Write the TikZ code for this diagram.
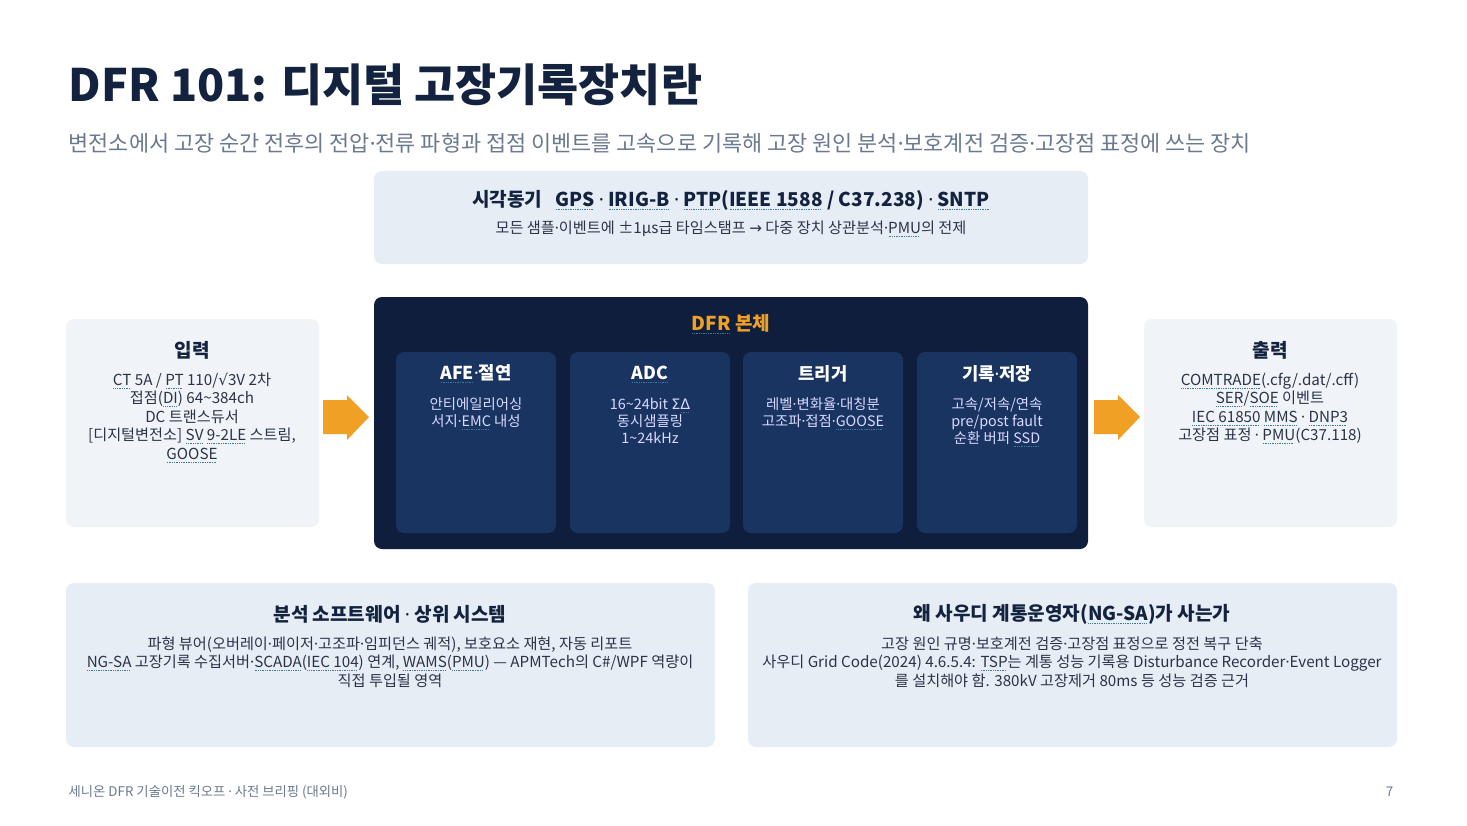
\documentclass[tikz,border=0pt]{standalone}
\usepackage{fontspec}
\usepackage{newunicodechar}
\setmainfont{Noto Sans CJK KR}
\newfontfamily\sym{DejaVu Sans}
\newfontfamily\lat{Noto Sans}
\newunicodechar{·}{{\lat ·}}
\definecolor{navy}{HTML}{13223F}
\definecolor{sub}{HTML}{6B7A90}
\definecolor{panel}{HTML}{E7EDF5}
\definecolor{side}{HTML}{F0F3F7}
\definecolor{dark}{HTML}{0E1E3C}
\definecolor{inner}{HTML}{1A3462}
\definecolor{org}{HTML}{F0A024}
\definecolor{dotc}{HTML}{3A7A9A}
\definecolor{body}{HTML}{2A3446}
\newcommand\ab[1]{\setbox0\hbox{#1}\rlap{\raisebox{-2.4pt}{\hbox to\wd0{\color{dotc}\leaders\hbox to 1.3pt{\hss\rule{0.65pt}{0.55pt}\hss}\hfill}}}\box0\relax}
\begin{document}
\begin{tikzpicture}[x=0.75pt,y=-0.75pt,
 box/.style={rounded corners=6pt,draw=none},
 hd/.style={font=\fontsize{14.3}{17}\selectfont\bfseries,text=navy},
 tx/.style={font=\fontsize{11.4}{13.9}\selectfont,text=body,align=center},
 ihd/.style={font=\fontsize{13.3}{16}\selectfont\bfseries,text=white},
 itx/.style={font=\fontsize{10.8}{12.8}\selectfont,text=white!85!blue,align=center},
 arr/.style={fill=org,draw=none}]
\useasboundingbox[fill=white] (0,0) rectangle (1467,825);
\node[anchor=west,font=\fontsize{33.5}{36}\selectfont\bfseries,text=navy] (title) at (64,85) {DFR 101: 디지털 고장기록장치란};
\node[anchor=west,font=\fontsize{16.4}{18}\selectfont,text=sub] (subt) at (64,143) {변전소에서 고장 순간 전후의 전압·전류 파형과 접점 이벤트를 고속으로 기록해 고장 원인 분석·보호계전 검증·고장점 표정에 쓰는 장치};
% top
\fill[panel,box] (374,171) rectangle (1088,264);
\node[hd] (sync) at (731,200) {시각동기\ \ \ \ab{GPS} · \ab{IRIG-B} · \ab{PTP}(\ab{IEEE 1588} / C37.238) · \ab{SNTP}};
\node[tx] (synct) at (731,229) {모든 샘플·이벤트에 ±1μs급 타임스탬프 {\sym→} 다중 장치 상관분석·\ab{PMU}의 전제};
% left
\fill[side,box] (66,319) rectangle (319,527);
\node[hd] (inh) at (192,350) {입력};
\node[tx,anchor=north] (int) at (192,368) {\ab{CT} 5A / \ab{PT} 110/{\sym√}3V 2차\\접점(\ab{DI}) 64\textasciitilde384ch\\DC 트랜스듀서\\{[}디지털변전소] \ab{SV} \ab{9-2LE} 스트림,\\\ab{GOOSE}};
% right
\fill[side,box] (1144,319) rectangle (1397,527);
\node[hd] (outh) at (1270,350) {출력};
\node[tx,anchor=north] (outt) at (1270,368) {\ab{COMTRADE}(.cfg/.dat/.cff)\\\ab{SER}/\ab{SOE} 이벤트\\\ab{IEC 61850} \ab{MMS} · \ab{DNP3}\\고장점 표정 · \ab{PMU}(C37.118)};
% main
\fill[dark,box] (374,297) rectangle (1088,549);
\node[font=\fontsize{14.3}{16}\selectfont\bfseries,text=org] (mainh) at (731,324) {\ab{DFR} 본체};
\foreach \n/\a/\h/\t in {afe/396/{\ab{AFE}·절연}/{안티에일리어싱\\서지·\ab{EMC} 내성},
 adc/570/{\ab{ADC}}/{16\textasciitilde24bit {\sym Σ}\ab{\sym Δ}\\동시샘플링\\1\textasciitilde24kHz},
 trg/743/{트리거}/{레벨·변화율·대칭분\\고조파·접점·\ab{GOOSE}},
 rec/917/{기록·저장}/{고속/저속/연속\\pre/post fault\\순환 버퍼 \ab{SSD}}}{
 \fill[inner,box] (\a,352) rectangle ++(160,181);
 \node[ihd] (\n h) at (\a+80,374) {\h};
 \node[itx,anchor=north] (\n t) at (\a+80,393) {\t};
}
\foreach \x in {323,1094}{
 \fill[arr] (\x,400) -- ++(24,0) -- ++(0,-5) -- ++(22,22) -- ++(-22,23) -- ++(0,-6) -- ++(-24,0) -- cycle;
}
% bottom
\fill[panel,box] (66,583) rectangle (715,747);
\node[hd] (b1h) at (390,614) {분석 소프트웨어 · 상위 시스템};
\node[tx,anchor=north] (b1t) at (390,632) {파형 뷰어(오버레이·페이저·고조파·임피던스 궤적), 보호요소 재현, 자동 리포트\\\ab{NG-SA} 고장기록 수집서버·\ab{SCADA}(\ab{IEC 104}) 연계, \ab{WAMS}(\ab{PMU}) — APMTech의 C\#/WPF 역량이\\직접 투입될 영역};
\fill[panel,box] (748,583) rectangle (1397,747);
\node[hd] (b2h) at (1072,614) {왜 사우디 계통운영자(\ab{NG-SA})가 사는가};
\node[tx,anchor=north] (b2t) at (1072,632) {고장 원인 규명·보호계전 검증·고장점 표정으로 정전 복구 단축\\사우디 Grid Code(2024) 4.6.5.4: \ab{TSP}는 계통 성능 기록용 Disturbance Recorder·Event Logger\\를 설치해야 함. 380kV 고장제거 80ms 등 성능 검증 근거};
\node[anchor=west,font=\fontsize{10}{11}\selectfont,text=sub] (foot) at (64,792) {세니온 DFR 기술이전 킥오프 · 사전 브리핑 (대외비)};
\node[anchor=east,font=\fontsize{10}{11}\selectfont,text=sub] (pg) at (1398,792) {7};
\end{tikzpicture}
\end{document}
